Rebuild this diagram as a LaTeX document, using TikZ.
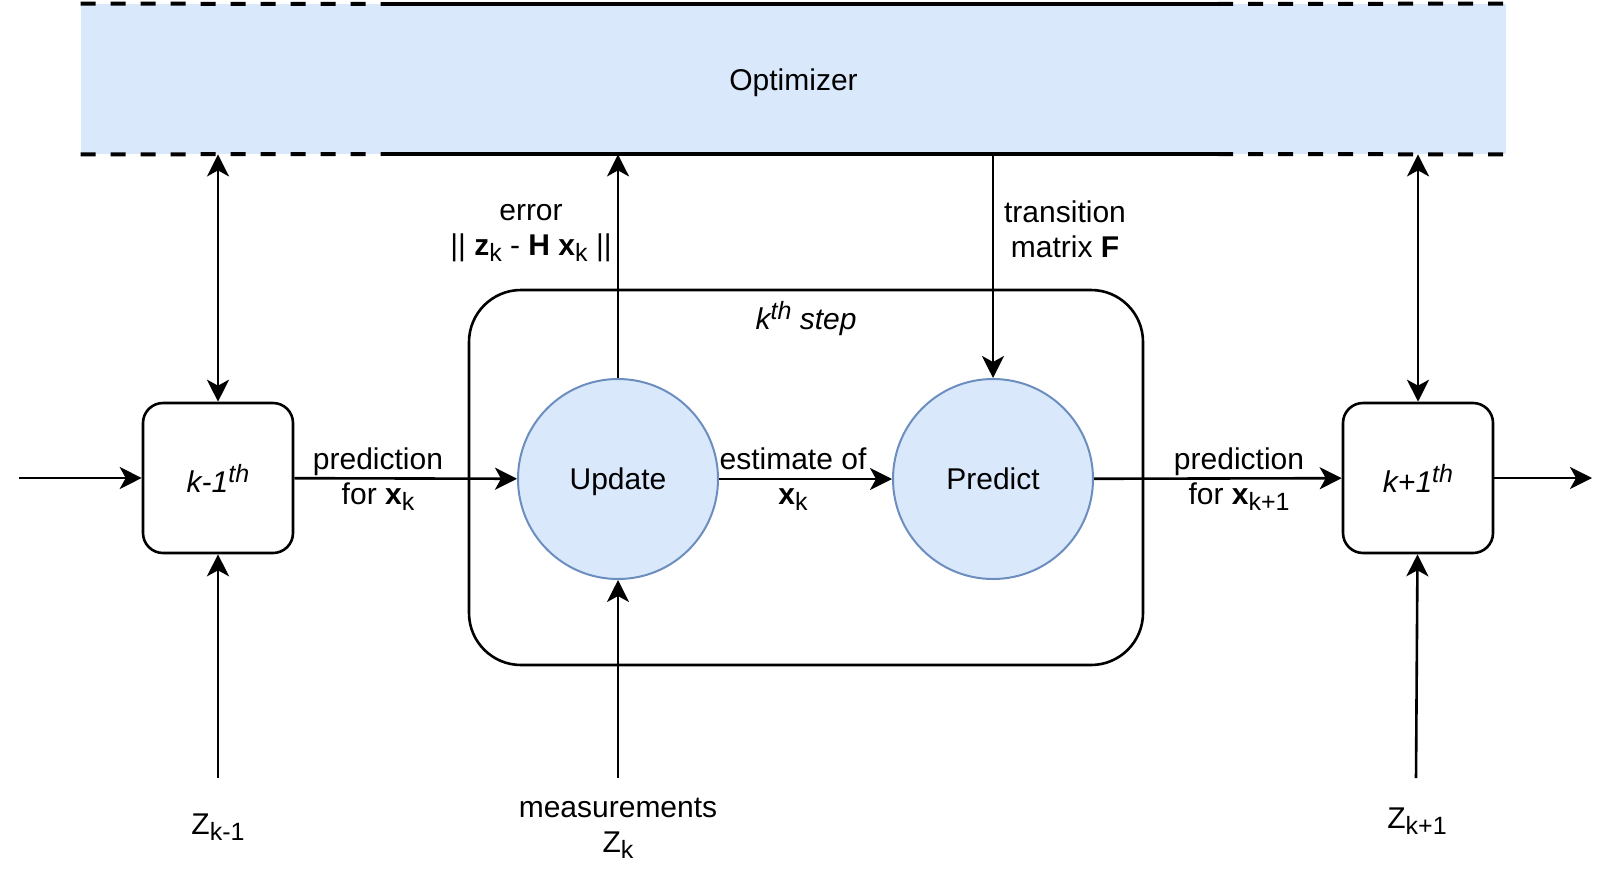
\documentclass[tikz,border=0pt]{standalone}
\usepackage{fontspec}
\setmainfont{Liberation Sans}
\usepackage{xcolor}
\usetikzlibrary{arrows.meta}

\definecolor{bluefill}{HTML}{DAE8FC}
\definecolor{blueline}{HTML}{6C8EBF}

\newcommand{\lsub}[1]{\raisebox{-3pt}{\fontsize{12.5}{12.5}\selectfont #1}}
\newcommand{\lsup}[1]{\raisebox{5pt}{\fontsize{12.5}{12.5}\selectfont #1}}

\tikzset{
	every node/.style={font=\fontsize{15}{17.5}\selectfont, align=center},
	stepbox/.style={draw, line width=1.3pt, rounded corners=10pt, minimum width=75pt, minimum height=75pt},
	filter/.style={circle, draw=blueline, fill=bluefill, line width=1pt, minimum size=100pt, text depth=0pt},
	link/.style={line width=1.3pt, -{Stealth[length=11pt,width=11pt,inset=3pt]}},
	twoway/.style={line width=1.3pt, {Stealth[length=11pt,width=11pt,inset=3pt]}-{Stealth[length=11pt,width=11pt,inset=3pt]}},
	dashline/.style={line width=2pt, dash pattern=on 7.5pt off 7.5pt},
	fullline/.style={line width=2pt}
}

\begin{document}
\begin{tikzpicture}[x=0.5pt,y=-0.5pt]
\useasboundingbox (0,0) rectangle (1615,878);

\node[fill=bluefill, minimum width=712.5pt, minimum height=75pt, inner sep=0pt] (opt) at (793.5,79) {};
\node (optlabel) at (793.5,83) {Optimizer};
\coordinate (ta) at (381,4);
\coordinate (tb) at (1218,4);
\coordinate (ba) at (381,154);
\coordinate (bb) at (1218,154);
\draw[dashline] (opt.north west) -- (ta);
\draw[fullline] (ta) -- (tb);
\draw[dashline] (tb) -- (opt.north east);
\draw[dashline] (opt.south west) -- (ba);
\draw[fullline] (ba) -- (bb);
\draw[dashline] (bb) -- (opt.south east);

\node[draw, line width=1.3pt, rounded corners=26pt, minimum width=337pt, minimum height=187.5pt] (kstep) at (806,477.5) {};
\node (klabel) at (806,319) {\textit{k\lsup{th} step}};

\node[stepbox] (prev) at (218,478) {\textit{k-1\lsup{th}}};
\node[stepbox] (next) at (1418,478) {\textit{k+1\lsup{th}}};
\node[filter] (upd) at (618,479) {Update};
\node[filter] (pred) at (993,479) {Predict};

\coordinate (in) at (19,478);
\coordinate (out) at (1592,478);
\coordinate (zprev) at (218,778);
\coordinate (zk) at (618,778);
\coordinate (znext) at (1416,778);

\draw[link] (in) -- (prev);
\draw[link] (prev) -- (upd);
\draw[link] (upd) -- (pred);
\draw[link] (pred) -- (next);
\draw[link] (next) -- (out);
\draw[link] (upd) -- (upd |- opt.south);
\draw[link] (opt.south -| pred) -- (pred);
\draw[twoway] (opt.south -| prev) -- (prev);
\draw[twoway] (opt.south -| next) -- (next);
\draw[link] (zprev) -- (prev);
\draw[link] (zk) -- (upd);
\draw[link] (znext) -- (next);

\node (lprev) at (378,479) {prediction\\for \textbf{x}\lsub{k}};
\node (lest) at (793,479) {estimate of\\\textbf{x}\lsub{k}};
\node (lnext) at (1239,479) {prediction\\for \textbf{x}\lsub{k+1}};
\node (lerr) at (531,233) {error\\|| \textbf{z}\lsub{k} - \textbf{H} \textbf{x}\lsub{k} ||};
\node (ltrans) at (1065,229) {transition\\matrix \textbf{F}};
\node (lzprev) at (218,827) {Z\lsub{k-1}};
\node (lzk) at (618,828) {measurements\\Z\lsub{k}};
\node (lznext) at (1417,821) {Z\lsub{k+1}};
\end{tikzpicture}
\end{document}
